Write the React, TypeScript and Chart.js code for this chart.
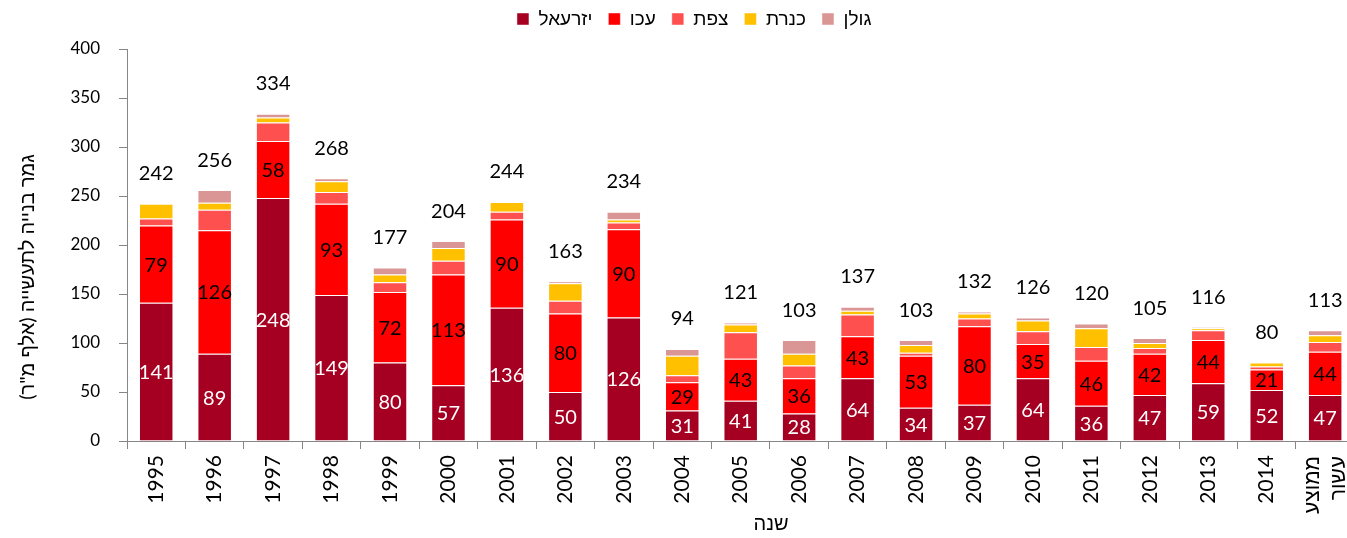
import React, { useEffect, useRef } from "react";
import { Chart, registerables } from "chart.js";

Chart.register(...registerables);

const categories: (string | string[])[] = [
  "1995", "1996", "1997", "1998", "1999", "2000", "2001", "2002", "2003", "2004",
  "2005", "2006", "2007", "2008", "2009", "2010", "2011", "2012", "2013", "2014",
  ["ממוצע", "עשור"],
];
const yizreel = [141, 89, 248, 149, 80, 57, 136, 50, 126, 31, 41, 28, 64, 34, 37, 64, 36, 47, 59, 52, 47];
const akko = [79, 126, 58, 93, 72, 113, 90, 80, 90, 29, 43, 36, 43, 53, 80, 35, 46, 42, 44, 21, 44];
const tsfat = [7, 21, 19, 12, 10, 14, 8, 13, 7, 7, 27, 13, 22, 3, 8, 13, 14, 6, 10, 3, 10];
const kinneret = [15, 7, 5, 11, 8, 13, 10, 18, 3, 20, 8, 12, 4, 8, 5, 11, 19, 5, 2, 4, 7];
const golan = [0, 13, 4, 3, 7, 7, 0, 2, 8, 7, 2, 14, 4, 5, 2, 3, 5, 5, 1, 0, 5];
const totals = [242, 256, 334, 268, 177, 204, 244, 163, 234, 94, 121, 103, 137, 103, 132, 126, 120, 105, 116, 80, 113];

const seriesNames = ["יזרעאל", "עכו", "צפת", "כנרת", "גולן"];
const seriesColors = ["#A50021", "#FF0000", "#FF5050", "#FFC000", "#DA9694"];
const labelColors = ["#FFFFFF", "#000000"];
const yMin = 0;
const yMax = 400;
const yStep = 50;
const xTitle = "שנה";
const yTitle = 'גמר בנייה לתעשייה (אלף מ"ר)';

const FONT = "Lato, 'Liberation Sans', sans-serif";

const legendShift = {
  id: "legendShift",
  afterLayout(chart: any) {
    const lg = chart.legend;
    if (!lg) return;
    const dx = 17;
    lg.left += dx;
    lg.right += dx;
    const h = lg.bottom - lg.top;
    lg.top = -6.5;
    lg.bottom = lg.top + h;
  },
};

const extraText = {
  id: "extraText",
  afterDraw(chart: any) {
    const ctx = chart.ctx;
    const xScale = chart.scales.x;
    ctx.save();
    ctx.fillStyle = "#000";
    // y title
    ctx.font = `20px ${FONT}`;
    ctx.textAlign = "center";
    ctx.textBaseline = "middle";
    ctx.save();
    ctx.translate(28, 277);
    ctx.rotate(-Math.PI / 2);
    ctx.fillText(yTitle, 0, 0);
    ctx.restore();
    // x title
    ctx.fillText(xTitle, 771, 524);
    // multi-line category labels
    ctx.font = `21px ${FONT}`;
    ctx.textAlign = "right";
    categories.forEach((c, i) => {
      if (!Array.isArray(c)) return;
      const px = xScale.getPixelForTick(i);
      const n = c.length;
      c.forEach((line, j) => {
        ctx.save();
        ctx.translate(px + (j - (n - 1) / 2) * 26, xScale.top + 15);
        ctx.rotate(-Math.PI / 2);
        ctx.fillText(line, 0, 0);
        ctx.restore();
      });
    });
    ctx.restore();
  },
};

const valueLabels = {
  id: "valueLabels",
  afterDatasetsDraw(chart: any) {
    const ctx = chart.ctx;
    ctx.save();
    ctx.font = `20px ${FONT}`;
    ctx.textAlign = "center";
    ctx.textBaseline = "middle";
    [0, 1].forEach((di) => {
      const meta = chart.getDatasetMeta(di);
      ctx.fillStyle = labelColors[di];
      meta.data.forEach((el: any, i: number) => {
        const v = chart.data.datasets[di].data[i];
        ctx.fillText(String(v), el.x, (el.y + el.base) / 2 + 1);
      });
    });
    const yScale = chart.scales.y;
    const meta0 = chart.getDatasetMeta(0);
    ctx.fillStyle = "#000000";
    totals.forEach((t, i) => {
      const el = meta0.data[i];
      ctx.fillText(String(t), el.x, yScale.getPixelForValue(t) - 30);
    });
    ctx.restore();
  },
};

export default function App() {
  const ref = useRef<HTMLCanvasElement>(null);
  useEffect(() => {
    if (!ref.current) return;
    const series = [yizreel, akko, tsfat, kinneret, golan];
    const chart = new Chart(ref.current, {
      type: "bar",
      data: {
        labels: categories as any,
        datasets: series.map((d, i) => ({
          label: seriesNames[i],
          data: d,
          backgroundColor: seriesColors[i],
          borderColor: "rgba(255,255,255,0.45)",
          borderWidth: 1,
          barPercentage: 0.59,
          categoryPercentage: 1,
        })),
      },
      options: {
        responsive: false,
        animation: false,
        events: [],
        layout: { padding: { top: 4, right: 25.6, left: 0, bottom: 0 } },
        plugins: {
          legend: {
            display: true,
            position: "top",
            labels: {
              boxWidth: 12,
              boxHeight: 12,
              padding: 16,
              color: "#000",
              font: { family: FONT, size: 19 },
            },
          },
          tooltip: { enabled: false },
        },
        scales: {
          x: {
            stacked: true,
            afterFit: (s: any) => {
              s.height = 97;
            },
            grid: {
              display: true,
              drawOnChartArea: false,
              drawTicks: true,
              tickLength: 8,
              color: "#868686",
              offset: true,
            },
            border: { display: true, color: "#868686", width: 1 },
            ticks: {
              autoSkip: false,
              maxRotation: 90,
              minRotation: 90,
              padding: 6,
              color: "#000",
              font: { family: FONT, size: 21 },
              callback: (_v: any, i: number) => {
                const c = categories[i];
                return Array.isArray(c) ? "" : c;
              },
            },
            title: { display: false },
          },
          y: {
            stacked: true,
            min: yMin,
            max: yMax,
            afterFit: (s: any) => {
              s.width = 127;
            },
            grid: {
              display: true,
              drawOnChartArea: false,
              drawTicks: true,
              tickLength: 8,
              color: "#868686",
            },
            border: { display: true, color: "#868686", width: 1 },
            ticks: {
              stepSize: yStep,
              padding: 19,
              color: "#000",
              font: { family: FONT, size: 17 },
            },
            title: { display: false },
          },
        },
      },
      plugins: [legendShift, valueLabels, extraText],
    });
    return () => chart.destroy();
  }, []);
  return (
    <div
      style={{
        position: "fixed",
        left: 0,
        top: 0,
        width: 1347,
        height: 538,
        overflow: "hidden",
        background: "#fff",
      }}
    >
      <canvas ref={ref} width={1380} height={538} style={{ width: 1380, height: 538, display: "block" }} />
    </div>
  );
}
